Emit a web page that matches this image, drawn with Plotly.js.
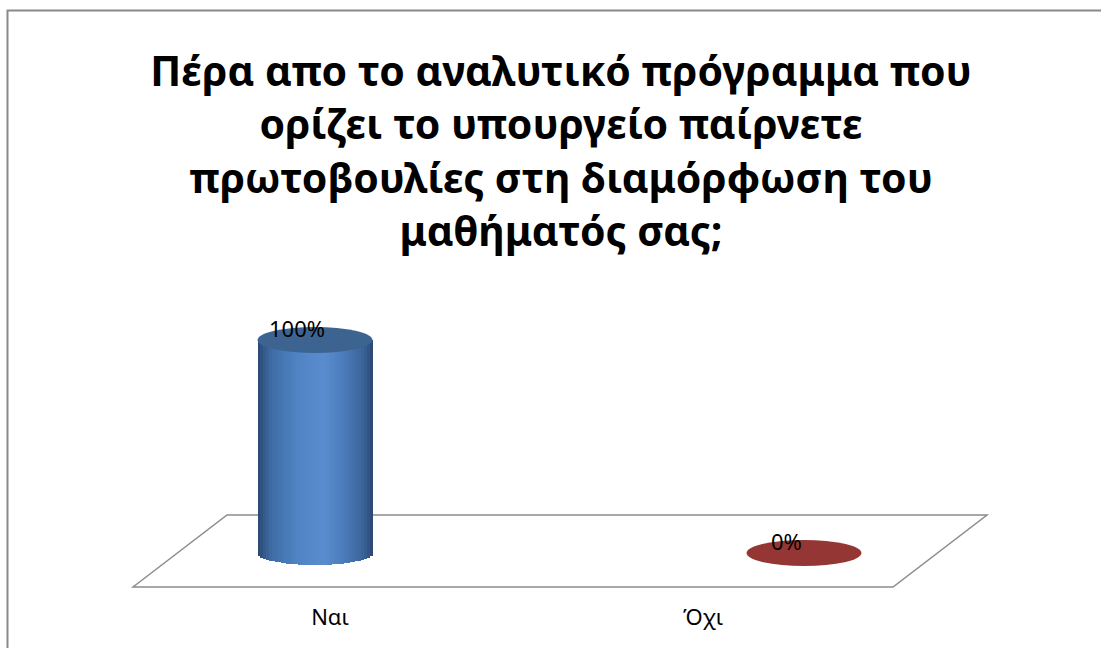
<!DOCTYPE html>
<html>
<head>
<meta charset="utf-8">
<script src="https://cdn.plot.ly/plotly-3.0.1.min.js"></script>
<style>html,body{margin:0;padding:0;background:#fff;}#chart{width:1101px;height:648px;}</style>
</head>
<body>
<div id="chart"></div>
<script>
// ---- data ----
const categories = ['Ναι', 'Όχι'];
const values = [100, 0];
const valueLabels = values.map(v => v + '%');
const titleText = 'Πέρα απο το αναλυτικό πρόγραμμα που<br>ορίζει το υπουργείο παίρνετε<br>πρωτοβουλίες στη διαμόρφωση του<br>μαθήματός σας;';

// ---- geometry / style ----
const W = 1101, H = 648;
const px = (x) => x / W;
const py = (y) => 1 - y / H;
const barIdx = categories.map((c, i) => i);
const yRange = [-20, 120];
const yDom = [py(595.6), py(297.4)];
const unitsPerPx = (yRange[1] - yRange[0]) / ((yDom[1] - yDom[0]) * H);
const barW = 0.235;          // bar width in category units
const capHalf = 13;          // ellipse half-height, px
const baseHalf = 12;
const N = 40;
const stops = [[0,[42,70,112]],[0.12,[63,108,166]],[0.35,[80,132,196]],[0.58,[90,141,207]],[0.8,[71,117,178]],[0.93,[58,97,149]],[1,[43,70,112]]];
function shade(t){
  for (let k = 0; k < stops.length - 1; k++){
    const a = stops[k], b = stops[k+1];
    if (t >= a[0] && t <= b[0]){
      const f = (t - a[0]) / (b[0] - a[0]);
      const c = a[1].map((v, j) => Math.round(v + (b[1][j] - v) * f));
      return 'rgb(' + c.join(',') + ')';
    }
  }
  return 'rgb(43,70,112)';
}

const traces = [];
for (let i = 0; i < N; i++){
  const t = (i + 0.5) / N;
  const u = 2 * t - 1;
  const depth = baseHalf * Math.sqrt(Math.max(0, 1 - u * u)) * unitsPerPx;
  traces.push({
    type: 'bar',
    x: barIdx,
    y: values.map(v => v > 0 ? v + depth : 0),
    base: values.map(v => v > 0 ? -depth : 0),
    width: barW / N * 1.05,
    offset: -barW / 2 + i * barW / N,
    marker: {color: shade(t), line: {width: 0}},
    hoverinfo: 'skip',
    showlegend: false
  });
}
// carrier for category labels
traces.push({type: 'scatter', mode: 'markers', x: categories, y: categories.map(() => null),
  xaxis: 'x2', yaxis: 'y', showlegend: false, hoverinfo: 'skip'});

const barColors = ['#3d6491', '#943634'];
const shapes = [
  // outer chart border
  {type: 'rect', xref: 'paper', yref: 'paper', x0: px(7.5), x1: 1.2, y0: -0.2, y1: py(10.5),
   line: {color: '#898989', width: 2}, fillcolor: 'rgba(0,0,0,0)', layer: 'below'},
  // floor
  {type: 'path', xref: 'paper', yref: 'paper', layer: 'below',
   path: 'M ' + px(133) + ' ' + py(587) + ' L ' + px(227) + ' ' + py(515) + ' L ' + px(987) + ' ' + py(515) + ' L ' + px(893) + ' ' + py(587) + ' Z',
   line: {color: '#8c8c8c', width: 1.5}, fillcolor: '#ffffff'}
];
values.forEach((v, i) => {
  shapes.push({type: 'circle', xref: 'x', yref: 'y', layer: 'above',
    x0: i - barW / 2, x1: i + barW / 2,
    ysizemode: 'pixel', yanchor: v, y0: -capHalf, y1: capHalf,
    fillcolor: barColors[i], line: {width: 0}});
});

const annotations = values.map((v, i) => ({
  xref: 'x', yref: 'y', x: i, y: v, text: valueLabels[i], showarrow: false,
  xanchor: 'center', yanchor: 'middle', xshift: -18, yshift: 12,
  font: {family: 'Noto Sans', size: 22, color: '#000'}
}));

const layout = {
  width: W, height: H,
  margin: {l: 0, r: 0, t: 0, b: 0},
  paper_bgcolor: '#ffffff', plot_bgcolor: 'rgba(0,0,0,0)',
  barmode: 'overlay', bargap: 0,
  showlegend: false,
  title: {text: titleText, font: {family: 'Noto Sans', size: 41, color: '#000', weight: 'bold'},
    x: px(561), xanchor: 'center', xref: 'container', y: py(86), yanchor: 'top', yref: 'container'},
  xaxis: {domain: [px(70.5), px(1048.5)], range: [-0.5, 1.5], visible: false, fixedrange: true},
  xaxis2: {domain: [px(143.5), px(889.5)], type: 'category', range: [-0.5, 1.5], anchor: 'free', position: py(602),
    showgrid: false, zeroline: false, showline: false, ticks: '',
    tickfont: {family: 'Noto Sans', size: 22, color: '#000'}},
  yaxis: {domain: yDom, range: yRange, visible: false, fixedrange: true},
  shapes: shapes,
  annotations: annotations
};

Plotly.newPlot('chart', traces, layout, {displayModeBar: false, staticPlot: true});
</script>
</body>
</html>
